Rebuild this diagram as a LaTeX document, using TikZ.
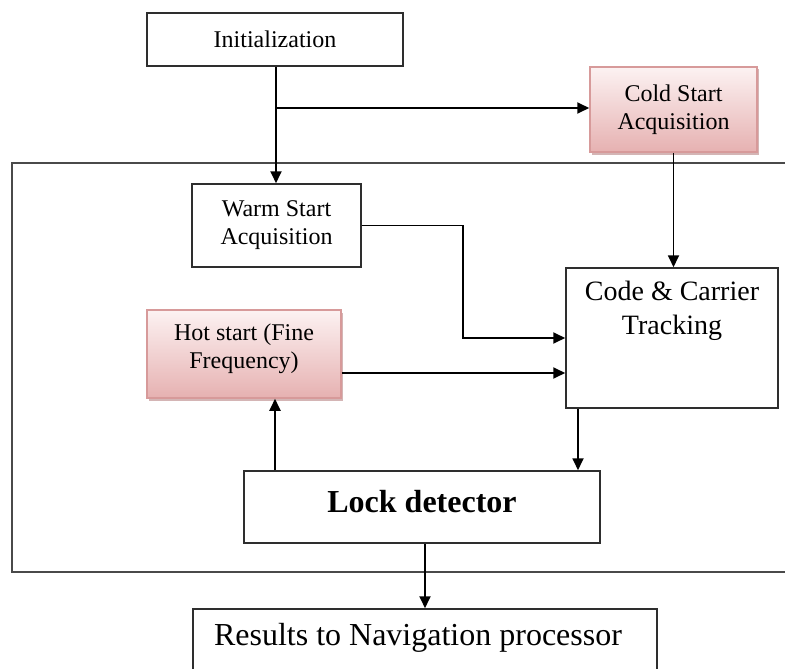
\documentclass[tikz,border=0pt]{standalone}
\usepackage{fontspec}
\setmainfont{Liberation Serif}
\usetikzlibrary{arrows.meta,shadows,calc}
\definecolor{framegray}{HTML}{4A4A4A}
\definecolor{boxgray}{HTML}{2E2E2E}
\definecolor{pinktop}{HTML}{FCF2F2}
\definecolor{pinkbot}{HTML}{E6B1B1}
\definecolor{pinkedge}{HTML}{D79A9A}
\definecolor{pinkshadow}{HTML}{C9A3A3}
\tikzset{
  box/.style={draw=boxgray, line width=1.5pt, fill=white, inner sep=0pt, align=center,
    font=\fontsize{24}{28}\selectfont},
  pinkbox/.style={draw=pinkedge, line width=1.5pt, top color=pinktop, bottom color=pinkbot,
    inner sep=0pt, align=center, font=\fontsize{24}{28}\selectfont,
    drop shadow={shadow xshift=2pt, shadow yshift=-2.5pt, fill=pinkshadow, opacity=0.8}},
  arr/.style={draw=black, line width=1.8pt, -{Triangle[length=12pt,width=11pt]}},
  frameline/.style={draw=framegray, line width=1.8pt}
}
\begin{document}
\begin{tikzpicture}[x=1pt,y=-1pt]
\useasboundingbox (0,0) rectangle (785,669);
\clip (0,0) rectangle (785,669);
% outer frame
\draw[frameline] (800,163) -- (12,163) -- (12,572) -- (800,572);
% boxes
\node[box, minimum width=256pt, minimum height=53pt] (init) at (275,39.5) {Initialization};
\node[pinkbox, minimum width=167pt, minimum height=85pt] (cold) at (673.5,109.5) {Cold Start\\Acquisition};
\node[box, minimum width=169pt, minimum height=83pt] (warm) at (276.5,225.5) {Warm Start\\Acquisition};
\node[box, minimum width=212pt, minimum height=140pt] (code) at (672,338) {};
\node[anchor=north, align=center, inner sep=0pt, font=\fontsize{28}{34}\selectfont] (codetxt) at ($(code.north)+(0,14)$) {Code \& Carrier\\Tracking};
\node[pinkbox, minimum width=194pt, minimum height=88pt] (hot) at (244,354) {};
\node[align=center, inner sep=0pt, font=\fontsize{24}{28}\selectfont] (hottxt) at (244,349) {Hot start (Fine\\Frequency)};
\node[box, minimum width=356pt, minimum height=72pt] (lock) at (422,507) {};
\node[inner sep=0pt, font=\fontsize{32}{36}\bfseries\selectfont] (locktxt) at (422,502) {Lock detector};
\node[box, minimum width=464pt, minimum height=120pt] (res) at (425,669) {};
\node[inner sep=0pt, font=\fontsize{32}{36}\selectfont] (restxt) at (418,638) {Results to Navigation processor};
% helper coordinates
\coordinate (ix) at (276,0);
\coordinate (br) at (276,108);
\coordinate (wa) at (463,225.5);
\coordinate (wb) at (463,338);
\coordinate (hy) at (0,373);
\coordinate (cx) at (578,0);
\coordinate (hx) at (275,0);
\coordinate (lx) at (425,0);
% connectors
\draw[arr] (init.south -| ix) -- (warm.north -| ix);
\draw[arr] (br) -- (cold.west |- br);
\draw[arr] (cold.south) -- (cold.south |- code.north);
\draw[arr] (warm.east |- wa) -- (wa) -- (wb) -- (code.west |- wb);
\draw[arr] (hot.east |- hy) -- (code.west |- hy);
\draw[arr] (code.south -| cx) -- (lock.north -| cx);
\draw[arr] (lock.north -| hx) -- (hot.south -| hx);
\draw[arr] (lock.south -| lx) -- (res.north -| lx);
\end{tikzpicture}
\end{document}
